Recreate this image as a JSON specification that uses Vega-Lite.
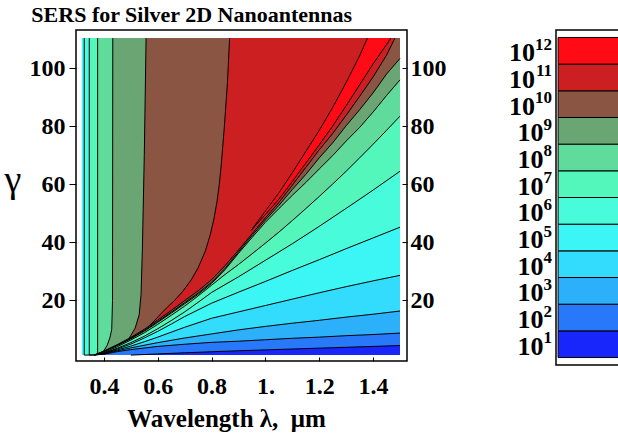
{
  "$schema": "https://vega.github.io/schema/vega-lite/v6.json",
  "background": "white",
  "padding": {"left": 3, "top": 4, "right": 0, "bottom": 0},
  "autosize": {"type": "pad"},
  "config": {"font": "Liberation Serif", "view": {"stroke": null}},
  "title": {"text": "SERS for Silver 2D Nanoantennas", "anchor": "start", "frame": "bounds", "dx": 28, "offset": -15, "baseline": "alphabetic", "font": "Liberation Serif", "fontSize": 22, "fontWeight": "bold", "color": "black"},
  "spacing": 149,
  "bounds": "flush",
  "datasets": {
    "bands": [
      {"r":1,"lam":0.3185,"lo":1.1,"hi":110.4},{"r":1,"lam":1.5,"lo":1.1,"hi":110.4},
      {"r":2,"lam":0.3185,"lo":1.1,"hi":110.4},{"r":2,"lam":0.5,"lo":1.1,"hi":110.4},{"r":2,"lam":0.6,"lo":1.5,"hi":110.4},{"r":2,"lam":0.7,"lo":1.9,"hi":110.4},{"r":2,"lam":0.8,"lo":2.25,"hi":110.4},{"r":2,"lam":0.9,"lo":2.6,"hi":110.4},{"r":2,"lam":1.0,"lo":2.9,"hi":110.4},{"r":2,"lam":1.1,"lo":3.2,"hi":110.4},{"r":2,"lam":1.2,"lo":3.5,"hi":110.4},{"r":2,"lam":1.3,"lo":3.8,"hi":110.4},{"r":2,"lam":1.4,"lo":4.1,"hi":110.4},{"r":2,"lam":1.5,"lo":4.4,"hi":110.4},
      {"r":3,"lam":0.3185,"lo":1.1,"hi":110.4},{"r":3,"lam":0.364,"lo":1.15,"hi":110.4},{"r":3,"lam":0.4,"lo":1.4,"hi":110.4},{"r":3,"lam":0.45,"lo":2.3,"hi":110.4},{"r":3,"lam":0.5,"lo":3.0,"hi":110.4},{"r":3,"lam":0.6,"lo":4.1,"hi":110.4},{"r":3,"lam":0.7,"lo":4.85,"hi":110.4},{"r":3,"lam":0.8,"lo":5.5,"hi":110.4},{"r":3,"lam":0.9,"lo":5.9,"hi":110.4},{"r":3,"lam":1.0,"lo":6.4,"hi":110.4},{"r":3,"lam":1.1,"lo":6.9,"hi":110.4},{"r":3,"lam":1.2,"lo":7.3,"hi":110.4},{"r":3,"lam":1.3,"lo":7.8,"hi":110.4},{"r":3,"lam":1.4,"lo":8.2,"hi":110.4},{"r":3,"lam":1.5,"lo":8.7,"hi":110.4},
      {"r":4,"lam":0.3185,"lo":1.1,"hi":110.4},{"r":4,"lam":0.364,"lo":1.15,"hi":110.4},{"r":4,"lam":0.4,"lo":1.5,"hi":110.4},{"r":4,"lam":0.45,"lo":2.6,"hi":110.4},{"r":4,"lam":0.5,"lo":3.6,"hi":110.4},{"r":4,"lam":0.6,"lo":5.4,"hi":110.4},{"r":4,"lam":0.7,"lo":7.0,"hi":110.4},{"r":4,"lam":0.8,"lo":8.4,"hi":110.4},{"r":4,"lam":0.9,"lo":9.8,"hi":110.4},{"r":4,"lam":1.0,"lo":11.0,"hi":110.4},{"r":4,"lam":1.1,"lo":12.1,"hi":110.4},{"r":4,"lam":1.2,"lo":13.1,"hi":110.4},{"r":4,"lam":1.3,"lo":14.2,"hi":110.4},{"r":4,"lam":1.4,"lo":15.2,"hi":110.4},{"r":4,"lam":1.5,"lo":16.3,"hi":110.4},
      {"r":5,"lam":0.3185,"lo":1.1,"hi":110.4},{"r":5,"lam":0.364,"lo":1.15,"hi":110.4},{"r":5,"lam":0.4,"lo":1.6,"hi":110.4},{"r":5,"lam":0.45,"lo":2.9,"hi":110.4},{"r":5,"lam":0.5,"lo":4.2,"hi":110.4},{"r":5,"lam":0.55,"lo":5.7,"hi":110.4},{"r":5,"lam":0.6,"lo":7.3,"hi":110.4},{"r":5,"lam":0.7,"lo":10.7,"hi":110.4},{"r":5,"lam":0.8,"lo":13.8,"hi":110.4},{"r":5,"lam":0.9,"lo":16.0,"hi":110.4},{"r":5,"lam":1.0,"lo":18.2,"hi":110.4},{"r":5,"lam":1.1,"lo":20.4,"hi":110.4},{"r":5,"lam":1.2,"lo":22.6,"hi":110.4},{"r":5,"lam":1.3,"lo":24.7,"hi":110.4},{"r":5,"lam":1.4,"lo":26.7,"hi":110.4},{"r":5,"lam":1.5,"lo":28.6,"hi":110.4},
      {"r":6,"lam":0.327,"lo":1.1,"hi":110.4},{"r":6,"lam":0.364,"lo":1.15,"hi":110.4},{"r":6,"lam":0.4,"lo":1.7,"hi":110.4},{"r":6,"lam":0.45,"lo":3.2,"hi":110.4},{"r":6,"lam":0.5,"lo":4.9,"hi":110.4},{"r":6,"lam":0.55,"lo":7.0,"hi":110.4},{"r":6,"lam":0.6,"lo":9.3,"hi":110.4},{"r":6,"lam":0.65,"lo":11.8,"hi":110.4},{"r":6,"lam":0.7,"lo":14.4,"hi":110.4},{"r":6,"lam":0.8,"lo":19.0,"hi":110.4},{"r":6,"lam":0.9,"lo":22.8,"hi":110.4},{"r":6,"lam":1.0,"lo":26.5,"hi":110.4},{"r":6,"lam":1.1,"lo":30.3,"hi":110.4},{"r":6,"lam":1.2,"lo":34.0,"hi":110.4},{"r":6,"lam":1.3,"lo":37.8,"hi":110.4},{"r":6,"lam":1.4,"lo":41.5,"hi":110.4},{"r":6,"lam":1.5,"lo":45.2,"hi":110.4},
      {"r":7,"lam":0.3456,"lo":1.1,"hi":110.4},{"r":7,"lam":0.364,"lo":1.15,"hi":110.4},{"r":7,"lam":0.4,"lo":1.8,"hi":110.4},{"r":7,"lam":0.45,"lo":3.5,"hi":110.4},{"r":7,"lam":0.5,"lo":5.4,"hi":110.4},{"r":7,"lam":0.55,"lo":7.6,"hi":110.4},{"r":7,"lam":0.6,"lo":10.2,"hi":110.4},{"r":7,"lam":0.65,"lo":13.0,"hi":110.4},{"r":7,"lam":0.7,"lo":16.0,"hi":110.4},{"r":7,"lam":0.75,"lo":19.3,"hi":110.4},{"r":7,"lam":0.8,"lo":22.7,"hi":110.4},{"r":7,"lam":0.9,"lo":28.1,"hi":110.4},{"r":7,"lam":1.0,"lo":33.8,"hi":110.4},{"r":7,"lam":1.1,"lo":39.5,"hi":110.4},{"r":7,"lam":1.2,"lo":45.5,"hi":110.4},{"r":7,"lam":1.3,"lo":51.7,"hi":110.4},{"r":7,"lam":1.4,"lo":58.0,"hi":110.4},{"r":7,"lam":1.5,"lo":64.5,"hi":110.4},
      {"r":8,"lam":0.3767,"lo":1.3,"hi":110.4},{"r":8,"lam":0.4,"lo":2.0,"hi":110.4},{"r":8,"lam":0.45,"lo":4.0,"hi":110.4},{"r":8,"lam":0.5,"lo":6.3,"hi":110.4},{"r":8,"lam":0.55,"lo":8.8,"hi":110.4},{"r":8,"lam":0.6,"lo":11.7,"hi":110.4},{"r":8,"lam":0.65,"lo":14.8,"hi":110.4},{"r":8,"lam":0.7,"lo":18.0,"hi":110.4},{"r":8,"lam":0.75,"lo":21.5,"hi":110.4},{"r":8,"lam":0.8,"lo":25.2,"hi":110.4},{"r":8,"lam":0.85,"lo":28.9,"hi":110.4},{"r":8,"lam":0.9,"lo":32.35,"hi":110.4},{"r":8,"lam":0.95,"lo":36.0,"hi":110.4},{"r":8,"lam":1.0,"lo":39.7,"hi":110.4},{"r":8,"lam":1.05,"lo":43.5,"hi":110.4},{"r":8,"lam":1.1,"lo":47.5,"hi":110.4},{"r":8,"lam":1.15,"lo":51.6,"hi":110.4},{"r":8,"lam":1.2,"lo":55.8,"hi":110.4},{"r":8,"lam":1.25,"lo":60.1,"hi":110.4},{"r":8,"lam":1.3,"lo":64.5,"hi":110.4},{"r":8,"lam":1.35,"lo":69.1,"hi":110.4},{"r":8,"lam":1.4,"lo":73.8,"hi":110.4},{"r":8,"lam":1.45,"lo":78.6,"hi":110.4},{"r":8,"lam":1.5,"lo":83.5,"hi":110.4},
      {"r":9,"lam":0.389,"lo":1.9,"hi":1.9},{"r":9,"lam":0.4,"lo":2.3,"hi":2.6},{"r":9,"lam":0.412,"lo":2.8,"hi":4.5},{"r":9,"lam":0.422,"lo":3.2,"hi":7},{"r":9,"lam":0.429,"lo":3.5,"hi":10},{"r":9,"lam":0.432,"lo":3.6,"hi":20},{"r":9,"lam":0.433,"lo":3.7,"hi":110.4},{"r":9,"lam":0.45,"lo":4.4,"hi":110.4},{"r":9,"lam":0.5,"lo":6.7,"hi":110.4},{"r":9,"lam":0.55,"lo":9.35,"hi":110.4},{"r":9,"lam":0.6,"lo":12.4,"hi":110.4},{"r":9,"lam":0.65,"lo":15.55,"hi":110.4},{"r":9,"lam":0.7,"lo":18.8,"hi":110.4},{"r":9,"lam":0.75,"lo":22.05,"hi":110.4},{"r":9,"lam":0.8,"lo":25.8,"hi":110.4},{"r":9,"lam":0.85,"lo":30.55,"hi":110.4},{"r":9,"lam":0.9,"lo":36.2,"hi":110.4},{"r":9,"lam":0.95,"lo":41.6,"hi":110.4},{"r":9,"lam":1.0,"lo":46.9,"hi":110.4},{"r":9,"lam":1.05,"lo":51.6,"hi":110.4},{"r":9,"lam":1.1,"lo":56.2,"hi":110.4},{"r":9,"lam":1.15,"lo":60.6,"hi":110.4},{"r":9,"lam":1.2,"lo":65.3,"hi":110.4},{"r":9,"lam":1.25,"lo":69.9,"hi":110.4},{"r":9,"lam":1.3,"lo":74.9,"hi":110.4},{"r":9,"lam":1.35,"lo":79.6,"hi":110.4},{"r":9,"lam":1.4,"lo":84.9,"hi":110.4},{"r":9,"lam":1.45,"lo":90.6,"hi":110.4},{"r":9,"lam":1.5,"lo":96,"hi":110.4},
      {"r":10,"lam":0.494,"lo":6.6,"hi":6.9},{"r":10,"lam":0.5,"lo":6.9,"hi":7.9},{"r":10,"lam":0.516,"lo":7.8,"hi":10.4},{"r":10,"lam":0.531,"lo":8.6,"hi":15},{"r":10,"lam":0.538,"lo":9.0,"hi":22},{"r":10,"lam":0.543,"lo":9.2,"hi":38},{"r":10,"lam":0.55,"lo":9.6,"hi":70},{"r":10,"lam":0.5567,"lo":10.0,"hi":110.4},{"r":10,"lam":0.6,"lo":12.7,"hi":110.4},{"r":10,"lam":0.65,"lo":15.9,"hi":110.4},{"r":10,"lam":0.7,"lo":19.2,"hi":110.4},{"r":10,"lam":0.75,"lo":22.45,"hi":110.4},{"r":10,"lam":0.8,"lo":26.2,"hi":110.4},{"r":10,"lam":0.85,"lo":31.0,"hi":110.4},{"r":10,"lam":0.9,"lo":36.7,"hi":110.4},{"r":10,"lam":0.95,"lo":42.25,"hi":110.4},{"r":10,"lam":1.0,"lo":47.7,"hi":110.4},{"r":10,"lam":1.05,"lo":52.7,"hi":110.4},{"r":10,"lam":1.1,"lo":58.2,"hi":110.4},{"r":10,"lam":1.15,"lo":63.4,"hi":110.4},{"r":10,"lam":1.2,"lo":69.1,"hi":110.4},{"r":10,"lam":1.25,"lo":74.3,"hi":110.4},{"r":10,"lam":1.3,"lo":80.2,"hi":110.4},{"r":10,"lam":1.35,"lo":85.7,"hi":110.4},{"r":10,"lam":1.4,"lo":91.5,"hi":110.4},{"r":10,"lam":1.45,"lo":98.0,"hi":110.4},{"r":10,"lam":1.5,"lo":103.4,"hi":110.4},
      {"r":11,"lam":0.57,"lo":11.3,"hi":11.3},{"r":11,"lam":0.601,"lo":13.27,"hi":14.3},{"r":11,"lam":0.632,"lo":15.31,"hi":17.3},{"r":11,"lam":0.663,"lo":17.38,"hi":20},{"r":11,"lam":0.693,"lo":19.42,"hi":23.1},{"r":11,"lam":0.724,"lo":21.51,"hi":27},{"r":11,"lam":0.7495,"lo":23.22,"hi":31.1},{"r":11,"lam":0.777,"lo":25.33,"hi":37},{"r":11,"lam":0.795,"lo":26.72,"hi":42.6},{"r":11,"lam":0.8086,"lo":27.93,"hi":48},{"r":11,"lam":0.82,"lo":29.04,"hi":54},{"r":11,"lam":0.8287,"lo":29.88,"hi":60},{"r":11,"lam":0.8362,"lo":30.61,"hi":67},{"r":11,"lam":0.8476,"lo":31.72,"hi":80},{"r":11,"lam":0.8588,"lo":32.9,"hi":95},{"r":11,"lam":0.867,"lo":33.8,"hi":110.4},{"r":11,"lam":0.9,"lo":37.3,"hi":110.4},{"r":11,"lam":0.95,"lo":42.9,"hi":110.4},{"r":11,"lam":1.0,"lo":48.4,"hi":110.4},{"r":11,"lam":1.05,"lo":53.7,"hi":110.4},{"r":11,"lam":1.1,"lo":59.7,"hi":110.4},{"r":11,"lam":1.15,"lo":65.8,"hi":110.4},{"r":11,"lam":1.2,"lo":71.9,"hi":110.4},{"r":11,"lam":1.25,"lo":77.5,"hi":110.4},{"r":11,"lam":1.3,"lo":83.8,"hi":110.4},{"r":11,"lam":1.35,"lo":90.3,"hi":110.4},{"r":11,"lam":1.4,"lo":97.0,"hi":110.4},{"r":11,"lam":1.45,"lo":104.5,"hi":110.4},{"r":11,"lam":1.481,"lo":110.4,"hi":110.4},
      {"r":12,"lam":0.947,"lo":44.1,"hi":44.1},{"r":12,"lam":1.0,"lo":49.6,"hi":50.8},{"r":12,"lam":1.05,"lo":54.9,"hi":57.0},{"r":12,"lam":1.1,"lo":61.0,"hi":64.0},{"r":12,"lam":1.15,"lo":67.3,"hi":71.3},{"r":12,"lam":1.2,"lo":73.6,"hi":78.6},{"r":12,"lam":1.25,"lo":80.1,"hi":86.5},{"r":12,"lam":1.3,"lo":87.1,"hi":95.1},{"r":12,"lam":1.35,"lo":94.3,"hi":104.3},{"r":12,"lam":1.379,"lo":98.5,"hi":110.4},{"r":12,"lam":1.4,"lo":101.5,"hi":110.4},{"r":12,"lam":1.45,"lo":108.2,"hi":110.4},{"r":12,"lam":1.466,"lo":110.4,"hi":110.4}
    ],
    "lines": [
      {"c":"1","lam":0.5,"g":1.1},{"c":"1","lam":0.6,"g":1.5},{"c":"1","lam":0.7,"g":1.9},{"c":"1","lam":0.8,"g":2.25},{"c":"1","lam":0.9,"g":2.6},{"c":"1","lam":1.0,"g":2.9},{"c":"1","lam":1.1,"g":3.2},{"c":"1","lam":1.2,"g":3.5},{"c":"1","lam":1.3,"g":3.8},{"c":"1","lam":1.4,"g":4.1},{"c":"1","lam":1.5,"g":4.4},
      {"c":"2","lam":0.364,"g":1.15},{"c":"2","lam":0.4,"g":1.4},{"c":"2","lam":0.45,"g":2.3},{"c":"2","lam":0.5,"g":3.0},{"c":"2","lam":0.6,"g":4.1},{"c":"2","lam":0.7,"g":4.85},{"c":"2","lam":0.8,"g":5.5},{"c":"2","lam":0.9,"g":5.9},{"c":"2","lam":1.0,"g":6.4},{"c":"2","lam":1.1,"g":6.9},{"c":"2","lam":1.2,"g":7.3},{"c":"2","lam":1.3,"g":7.8},{"c":"2","lam":1.4,"g":8.2},{"c":"2","lam":1.5,"g":8.7},
      {"c":"3","lam":0.364,"g":1.15},{"c":"3","lam":0.4,"g":1.5},{"c":"3","lam":0.45,"g":2.6},{"c":"3","lam":0.5,"g":3.6},{"c":"3","lam":0.6,"g":5.4},{"c":"3","lam":0.7,"g":7.0},{"c":"3","lam":0.8,"g":8.4},{"c":"3","lam":0.9,"g":9.8},{"c":"3","lam":1.0,"g":11.0},{"c":"3","lam":1.1,"g":12.1},{"c":"3","lam":1.2,"g":13.1},{"c":"3","lam":1.3,"g":14.2},{"c":"3","lam":1.4,"g":15.2},{"c":"3","lam":1.5,"g":16.3},
      {"c":"4","lam":0.364,"g":1.15},{"c":"4","lam":0.4,"g":1.6},{"c":"4","lam":0.45,"g":2.9},{"c":"4","lam":0.5,"g":4.2},{"c":"4","lam":0.55,"g":5.7},{"c":"4","lam":0.6,"g":7.3},{"c":"4","lam":0.7,"g":10.7},{"c":"4","lam":0.8,"g":13.8},{"c":"4","lam":0.9,"g":16.0},{"c":"4","lam":1.0,"g":18.2},{"c":"4","lam":1.1,"g":20.4},{"c":"4","lam":1.2,"g":22.6},{"c":"4","lam":1.3,"g":24.7},{"c":"4","lam":1.4,"g":26.7},{"c":"4","lam":1.5,"g":28.6},
      {"c":"5","lam":0.327,"g":110.4},{"c":"5","lam":0.327,"g":1.1},{"c":"5","lam":0.364,"g":1.15},{"c":"5","lam":0.4,"g":1.7},{"c":"5","lam":0.45,"g":3.2},{"c":"5","lam":0.5,"g":4.9},{"c":"5","lam":0.55,"g":7.0},{"c":"5","lam":0.6,"g":9.3},{"c":"5","lam":0.65,"g":11.8},{"c":"5","lam":0.7,"g":14.4},{"c":"5","lam":0.8,"g":19.0},{"c":"5","lam":0.9,"g":22.8},{"c":"5","lam":1.0,"g":26.5},{"c":"5","lam":1.1,"g":30.3},{"c":"5","lam":1.2,"g":34.0},{"c":"5","lam":1.3,"g":37.8},{"c":"5","lam":1.4,"g":41.5},{"c":"5","lam":1.5,"g":45.2},
      {"c":"6","lam":0.3456,"g":110.4},{"c":"6","lam":0.3456,"g":1.1},{"c":"6","lam":0.364,"g":1.15},{"c":"6","lam":0.4,"g":1.8},{"c":"6","lam":0.45,"g":3.5},{"c":"6","lam":0.5,"g":5.4},{"c":"6","lam":0.55,"g":7.6},{"c":"6","lam":0.6,"g":10.2},{"c":"6","lam":0.65,"g":13.0},{"c":"6","lam":0.7,"g":16.0},{"c":"6","lam":0.75,"g":19.3},{"c":"6","lam":0.8,"g":22.7},{"c":"6","lam":0.9,"g":28.1},{"c":"6","lam":1.0,"g":33.8},{"c":"6","lam":1.1,"g":39.5},{"c":"6","lam":1.2,"g":45.5},{"c":"6","lam":1.3,"g":51.7},{"c":"6","lam":1.4,"g":58.0},{"c":"6","lam":1.5,"g":64.5},
      {"c":"7","lam":0.3767,"g":110.4},{"c":"7","lam":0.3767,"g":1.3},{"c":"7","lam":0.4,"g":2.0},{"c":"7","lam":0.45,"g":4.0},{"c":"7","lam":0.5,"g":6.3},{"c":"7","lam":0.55,"g":8.8},{"c":"7","lam":0.6,"g":11.7},{"c":"7","lam":0.65,"g":14.8},{"c":"7","lam":0.7,"g":18.0},{"c":"7","lam":0.75,"g":21.5},{"c":"7","lam":0.8,"g":25.2},{"c":"7","lam":0.85,"g":28.9},{"c":"7","lam":0.9,"g":32.35},{"c":"7","lam":0.95,"g":36.0},{"c":"7","lam":1.0,"g":39.7},{"c":"7","lam":1.05,"g":43.5},{"c":"7","lam":1.1,"g":47.5},{"c":"7","lam":1.15,"g":51.6},{"c":"7","lam":1.2,"g":55.8},{"c":"7","lam":1.25,"g":60.1},{"c":"7","lam":1.3,"g":64.5},{"c":"7","lam":1.35,"g":69.1},{"c":"7","lam":1.4,"g":73.8},{"c":"7","lam":1.45,"g":78.6},{"c":"7","lam":1.5,"g":83.5},
      {"c":"8L","lam":0.433,"g":110.4},{"c":"8L","lam":0.432,"g":20},{"c":"8L","lam":0.429,"g":10},{"c":"8L","lam":0.422,"g":7},{"c":"8L","lam":0.412,"g":4.5},{"c":"8L","lam":0.4,"g":2.6},{"c":"8L","lam":0.389,"g":1.9},
      {"c":"8","lam":0.364,"g":1.15},{"c":"8","lam":0.389,"g":1.9},{"c":"8","lam":0.4,"g":2.3},{"c":"8","lam":0.45,"g":4.4},{"c":"8","lam":0.5,"g":6.7},{"c":"8","lam":0.55,"g":9.35},{"c":"8","lam":0.6,"g":12.4},{"c":"8","lam":0.65,"g":15.55},{"c":"8","lam":0.7,"g":18.8},{"c":"8","lam":0.75,"g":22.05},{"c":"8","lam":0.8,"g":25.8},{"c":"8","lam":0.85,"g":30.55},{"c":"8","lam":0.9,"g":36.2},{"c":"8","lam":0.95,"g":41.6},{"c":"8","lam":1.0,"g":46.9},{"c":"8","lam":1.05,"g":51.6},{"c":"8","lam":1.1,"g":56.2},{"c":"8","lam":1.15,"g":60.6},{"c":"8","lam":1.2,"g":65.3},{"c":"8","lam":1.25,"g":69.9},{"c":"8","lam":1.3,"g":74.9},{"c":"8","lam":1.35,"g":79.6},{"c":"8","lam":1.4,"g":84.9},{"c":"8","lam":1.45,"g":90.6},{"c":"8","lam":1.5,"g":96},
      {"c":"9L","lam":0.5567,"g":110.4},{"c":"9L","lam":0.55,"g":70},{"c":"9L","lam":0.543,"g":38},{"c":"9L","lam":0.538,"g":22},{"c":"9L","lam":0.531,"g":15},{"c":"9L","lam":0.516,"g":10.4},{"c":"9L","lam":0.5,"g":7.9},{"c":"9L","lam":0.494,"g":6.9},
      {"c":"9","lam":0.364,"g":1.15},{"c":"9","lam":0.4,"g":2.4},{"c":"9","lam":0.45,"g":4.55},{"c":"9","lam":0.5,"g":6.9},{"c":"9","lam":0.55,"g":9.6},{"c":"9","lam":0.6,"g":12.7},{"c":"9","lam":0.65,"g":15.9},{"c":"9","lam":0.7,"g":19.2},{"c":"9","lam":0.75,"g":22.45},{"c":"9","lam":0.8,"g":26.2},{"c":"9","lam":0.85,"g":31.0},{"c":"9","lam":0.9,"g":36.7},{"c":"9","lam":0.95,"g":42.25},{"c":"9","lam":1.0,"g":47.7},{"c":"9","lam":1.05,"g":52.7},{"c":"9","lam":1.1,"g":58.2},{"c":"9","lam":1.15,"g":63.4},{"c":"9","lam":1.2,"g":69.1},{"c":"9","lam":1.25,"g":74.3},{"c":"9","lam":1.3,"g":80.2},{"c":"9","lam":1.35,"g":85.7},{"c":"9","lam":1.4,"g":91.5},{"c":"9","lam":1.45,"g":98.0},{"c":"9","lam":1.5,"g":103.4},
      {"c":"10L","lam":0.867,"g":110.4},{"c":"10L","lam":0.8588,"g":95},{"c":"10L","lam":0.8476,"g":80},{"c":"10L","lam":0.8362,"g":67},{"c":"10L","lam":0.8287,"g":60},{"c":"10L","lam":0.82,"g":54},{"c":"10L","lam":0.8086,"g":48},{"c":"10L","lam":0.795,"g":42.6},{"c":"10L","lam":0.777,"g":37},{"c":"10L","lam":0.7495,"g":31.1},{"c":"10L","lam":0.724,"g":27},{"c":"10L","lam":0.693,"g":23.1},{"c":"10L","lam":0.663,"g":20},{"c":"10L","lam":0.632,"g":17.3},{"c":"10L","lam":0.601,"g":14.3},{"c":"10L","lam":0.57,"g":11.3},
      {"c":"10","lam":0.364,"g":1.15},{"c":"10","lam":0.4,"g":2.5},{"c":"10","lam":0.45,"g":4.75},{"c":"10","lam":0.5,"g":7.2},{"c":"10","lam":0.55,"g":10.0},{"c":"10","lam":0.6,"g":13.2},{"c":"10","lam":0.65,"g":16.5},{"c":"10","lam":0.7,"g":19.9},{"c":"10","lam":0.75,"g":23.25},{"c":"10","lam":0.8,"g":27.1},{"c":"10","lam":0.85,"g":31.95},{"c":"10","lam":0.9,"g":37.3},{"c":"10","lam":0.95,"g":42.9},{"c":"10","lam":1.0,"g":48.4},{"c":"10","lam":1.05,"g":53.7},{"c":"10","lam":1.1,"g":59.7},{"c":"10","lam":1.15,"g":65.8},{"c":"10","lam":1.2,"g":71.9},{"c":"10","lam":1.25,"g":77.5},{"c":"10","lam":1.3,"g":83.8},{"c":"10","lam":1.35,"g":90.3},{"c":"10","lam":1.4,"g":97.0},{"c":"10","lam":1.45,"g":104.5},{"c":"10","lam":1.481,"g":110.4},
      {"c":"11","lam":1.379,"g":110.4},{"c":"11","lam":1.35,"g":104.3},{"c":"11","lam":1.3,"g":95.1},{"c":"11","lam":1.25,"g":86.5},{"c":"11","lam":1.2,"g":78.6},{"c":"11","lam":1.15,"g":71.3},{"c":"11","lam":1.1,"g":64.0},{"c":"11","lam":1.05,"g":57.0},{"c":"11","lam":1.0,"g":50.8},{"c":"11","lam":0.947,"g":44.1},{"c":"11","lam":1.0,"g":49.6},{"c":"11","lam":1.05,"g":54.9},{"c":"11","lam":1.1,"g":61.0},{"c":"11","lam":1.15,"g":67.3},{"c":"11","lam":1.2,"g":73.6},{"c":"11","lam":1.25,"g":80.1},{"c":"11","lam":1.3,"g":87.1},{"c":"11","lam":1.35,"g":94.3},{"c":"11","lam":1.4,"g":101.5},{"c":"11","lam":1.45,"g":108.2},{"c":"11","lam":1.466,"g":110.4}
    ],
    "legend": [
      {"k":1,"e":"1"},{"k":2,"e":"2"},{"k":3,"e":"3"},{"k":4,"e":"4"},{"k":5,"e":"5"},{"k":6,"e":"6"},{"k":7,"e":"7"},{"k":8,"e":"8"},{"k":9,"e":"9"},{"k":10,"e":"10"},{"k":11,"e":"11"},{"k":12,"e":"12"}
    ]
  },
  "hconcat": [
    {
      "width": 331,
      "height": 331,
      "view": {"stroke": "black", "strokeWidth": 1.5},
      "layer": [
        {
          "data": {"name": "bands"},
          "encoding": {
            "x": {"field": "lam", "type": "quantitative", "title": "Wavelength λ,\u00a0 μm",
              "scale": {"domain": [0.2963, 1.526], "nice": false, "zero": false},
              "axis": {"orient": "bottom", "values": [0.4, 0.6, 0.8, 1.0, 1.2, 1.4], "labelExpr": "datum.value == 1 ? '1.' : format(datum.value, '.1f')", "domain": false, "grid": false, "tickSize": -4, "tickColor": "black", "labelPadding": 36, "labelBaseline": "alphabetic", "labelFont": "Liberation Serif", "labelFontSize": 24, "labelFontWeight": "bold", "labelColor": "black", "titleFont": "Liberation Serif", "titleFontSize": 25, "titleFontWeight": "bold", "titleColor": "black", "titleX": 150, "titleY": 65, "titleAlign": "center", "titleBaseline": "alphabetic"}},
            "y": {"field": "lo", "type": "quantitative", "title": "γ",
              "scale": {"domain": [-0.93, 113.2], "nice": false, "zero": false},
              "axis": {"orient": "left", "values": [20, 40, 60, 80, 100], "domain": false, "grid": false, "tickSize": 7, "tickColor": "black", "labelPadding": 4, "labelFont": "Liberation Serif", "labelFontSize": 24, "labelFontWeight": "bold", "labelColor": "black", "titleFont": "Liberation Serif", "titleFontSize": 38, "titleFontWeight": "normal", "titleColor": "black", "titleAngle": 0, "titleX": -63.5, "titleY": 161, "titleAlign": "center", "titleBaseline": "alphabetic"}},
            "y2": {"field": "hi"}
          },
          "layer": [
            {"transform": [{"filter": "datum.r == 1"}], "mark": {"type": "area", "color": "#1826fb"}},
            {"transform": [{"filter": "datum.r == 2"}], "mark": {"type": "area", "color": "#2779fa"}},
            {"transform": [{"filter": "datum.r == 3"}], "mark": {"type": "area", "color": "#2db0fa"}},
            {"transform": [{"filter": "datum.r == 4"}], "mark": {"type": "area", "color": "#33dcfc"}},
            {"transform": [{"filter": "datum.r == 5"}], "mark": {"type": "area", "color": "#3bf6f4"}},
            {"transform": [{"filter": "datum.r == 6"}], "mark": {"type": "area", "color": "#48fcdb"}},
            {"transform": [{"filter": "datum.r == 7"}], "mark": {"type": "area", "color": "#53f7bc"}},
            {"transform": [{"filter": "datum.r == 8"}], "mark": {"type": "area", "color": "#5fdc9c"}},
            {"transform": [{"filter": "datum.r == 9"}], "mark": {"type": "area", "color": "#6aa673"}},
            {"transform": [{"filter": "datum.r == 10"}], "mark": {"type": "area", "color": "#8a5543"}},
            {"transform": [{"filter": "datum.r == 11"}], "mark": {"type": "area", "color": "#cc1f22"}},
            {"transform": [{"filter": "datum.r == 12"}], "mark": {"type": "area", "color": "#ff0b16"}}
          ]
        },
        {
          "data": {"name": "lines"},
          "mark": {"type": "line", "color": "black", "strokeWidth": 1},
          "encoding": {
            "x": {"field": "lam", "type": "quantitative", "title": "Wavelength λ,\u00a0 μm",
              "scale": {"domain": [0.2963, 1.526], "nice": false, "zero": false},
              "axis": {"orient": "bottom", "values": [0.4, 0.6, 0.8, 1.0, 1.2, 1.4], "labelExpr": "datum.value == 1 ? '1.' : format(datum.value, '.1f')", "domain": false, "grid": false, "tickSize": -4, "tickColor": "black", "labelPadding": 36, "labelBaseline": "alphabetic", "labelFont": "Liberation Serif", "labelFontSize": 24, "labelFontWeight": "bold", "labelColor": "black", "titleFont": "Liberation Serif", "titleFontSize": 25, "titleFontWeight": "bold", "titleColor": "black", "titleX": 150, "titleY": 65, "titleAlign": "center", "titleBaseline": "alphabetic"}},
            "y": {"field": "g", "type": "quantitative", "title": null,
              "scale": {"domain": [-0.93, 113.2], "nice": false, "zero": false},
              "axis": {"orient": "right", "values": [20, 40, 60, 80, 100], "domain": false, "grid": false, "tickSize": -5, "tickColor": "black", "labelPadding": 8, "labelFont": "Liberation Serif", "labelFontSize": 24, "labelFontWeight": "bold", "labelColor": "black", "title": null}},
            "detail": {"field": "c"},
            "order": {"value": null}
          }
        }
      ],
      "resolve": {"axis": {"y": "independent"}}
    },
    {
      "width": 63,
      "height": 335,
      "view": {"stroke": "black", "strokeWidth": 1.5},
      "data": {"name": "legend"},
      "encoding": {
        "y": {"field": "k", "type": "ordinal", "sort": "descending", "axis": null, "scale": {"paddingInner": 0, "paddingOuter": 0.28}}
      },
      "layer": [
        {
          "mark": {"type": "rect", "stroke": "black", "strokeWidth": 1},
          "encoding": {
            "x": {"datum": 0.033, "type": "quantitative", "scale": {"domain": [0, 1], "nice": false, "zero": false}, "axis": null},
            "x2": {"datum": 1},
            "color": {"field": "k", "type": "ordinal", "legend": null, "scale": {"domain": [1,2,3,4,5,6,7,8,9,10,11,12], "range": ["#1826fb","#2779fa","#2db0fa","#33dcfc","#3bf6f4","#48fcdb","#53f7bc","#5fdc9c","#6aa673","#8a5543","#cc1f22","#ff0b16"]}}
          }
        },
        {
          "transform": [{"filter": "datum.k >= 10"}],
          "mark": {"type": "text", "align": "right", "baseline": "alphabetic", "dx": -21, "dy": 10.5, "font": "Liberation Serif", "fontSize": 26, "fontWeight": "bold", "color": "black"},
          "encoding": {"x": {"datum": 0, "type": "quantitative"}, "text": {"value": "10"}}
        },
        {
          "transform": [{"filter": "datum.k < 10"}],
          "mark": {"type": "text", "align": "right", "baseline": "alphabetic", "dx": -12.5, "dy": 10.5, "font": "Liberation Serif", "fontSize": 26, "fontWeight": "bold", "color": "black"},
          "encoding": {"x": {"datum": 0, "type": "quantitative"}, "text": {"value": "10"}}
        },
        {
          "mark": {"type": "text", "align": "right", "baseline": "alphabetic", "dx": -4, "dy": -1, "font": "Liberation Serif", "fontSize": 17, "fontWeight": "bold", "color": "black"},
          "encoding": {"x": {"datum": 0, "type": "quantitative"}, "text": {"field": "e"}}
        }
      ]
    }
  ]
}
